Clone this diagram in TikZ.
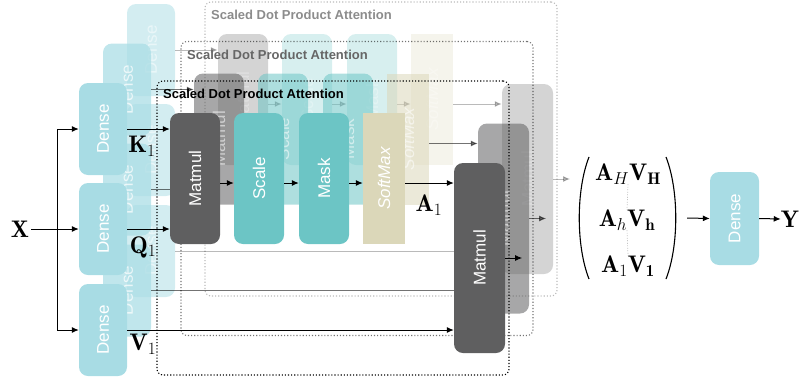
\documentclass[tikz,border=0pt]{standalone}
\usepackage{fontspec}
\newfontfamily\lsans{Liberation Sans}
\usetikzlibrary{arrows.meta}
\definecolor{densec}{HTML}{A8DCE4}
\definecolor{mmc}{HTML}{5F5F60}
\definecolor{tealc}{HTML}{6CC5C5}
\definecolor{softc}{HTML}{DBD7B9}
\tikzset{
  arr/.style={-{Latex[length=7pt,width=6pt]}, line width=1pt},
  rbox/.style={rounded corners=9pt, inner sep=0pt, draw=none},
  densebox/.style={rbox, fill=densec, minimum width=48pt, minimum height=92pt},
  mmbox/.style={rbox, fill=mmc, minimum width=50pt, minimum height=131pt},
  mmbigbox/.style={rbox, fill=mmc, minimum width=51pt, minimum height=190pt},
  scbox/.style={rbox, fill=tealc, minimum width=50pt, minimum height=131pt},
  smbox/.style={inner sep=0pt, fill=softc, minimum width=42pt, minimum height=131pt},
  btext/.style={rotate=90, text=white, inner sep=0pt, font=\lsans\fontsize{17}{19}\selectfont},
  frame/.style={draw, dotted, line width=1.1pt, rounded corners=6pt, inner sep=0pt, minimum width=352pt, minimum height=294pt},
  flabel/.style={anchor=west, inner sep=0pt, font=\lsans\bfseries\fontsize{13}{15}\selectfont},
  mathlbl/.style={inner sep=0pt, font=\fontsize{24}{28}\selectfont},
}
% #1 suffix, #2 dx, #3 dy, #4 opacity, #5 dense opacity, #6 label colour
\newcommand\attnlayer[6]{%
\begin{scope}[shift={(#2,#3)}, opacity=#4]
  \node[densebox, opacity=#5] (dK#1) at (103,129) {};
  \node[btext, opacity=#5] at (dK#1) {Dense};
  \node[densebox, opacity=#5] (dQ#1) at (103,229) {};
  \node[btext, opacity=#5] at (dQ#1) {Dense};
  \node[densebox, opacity=#5] (dV#1) at (103,330) {};
  \node[btext, opacity=#5] at (dV#1) {Dense};
  \node[mmbox] (ma#1) at (195,178.5) {};
  \node[btext] at (ma#1) {Matmul};
  \node[scbox] (sc#1) at (259,178.5) {};
  \node[btext] at (sc#1) {Scale};
  \node[scbox] (mk#1) at (324,178.5) {};
  \node[btext] at (mk#1) {Mask};
  \node[smbox] (sm#1) at (384,178.5) {};
  \node[btext, font=\lsans\itshape\fontsize{17}{19}\selectfont] at (sm#1) {SoftMax};
  \node[mmbigbox] (mb#1) at (479.5,258) {};
  \node[btext] at (mb#1) {Matmul};
  \draw[arr] (dK#1.east) -- (dK#1.east -| ma#1.west);
  \draw[arr] (dQ#1.east) -- (dQ#1.east -| ma#1.west);
  \draw[arr] (dV#1.east) -- (dV#1.east -| mb#1.west);
  \draw[arr] ([yshift=-4.5pt]ma#1.east) -- ([yshift=-4.5pt]sc#1.west);
  \draw[arr] ([yshift=-4.5pt]sc#1.east) -- ([yshift=-4.5pt]mk#1.west);
  \draw[arr] ([yshift=-4.5pt]mk#1.east) -- ([yshift=-4.5pt]sm#1.west);
  \draw[arr] ([yshift=-4.5pt]sm#1.east) -- ([yshift=-4.5pt]sm#1.east -| mb#1.west);
  \coordinate (o#1) at ([xshift=17pt]mb#1.east);
  \draw[arr] (mb#1.east) -- (o#1);
  \node[frame, draw=black] (fr#1) at (333,228) {};
  \node[flabel, text=#6, opacity=1] (fl#1) at (163,94) {Scaled Dot Product Attention};
\end{scope}}
\begin{document}
\begin{tikzpicture}[x=1pt,y=-1pt]
\useasboundingbox (0,0) rectangle (802,383);
\attnlayer{c}{48}{-79}{0.27}{0.5}{black!45}
\attnlayer{b}{24}{-39.5}{0.55}{0.72}{black!60}
\attnlayer{a}{0}{0}{1}{1}{black}
% inputs
\node[mathlbl] (X) at (20,229) {$\mathbf{X}$};
\coordinate (sp) at (57,229);
\draw[arr] ([xshift=2pt]X.east) -- (dQa.west);
\draw[arr] (sp) |- (dKa.west);
\draw[arr] (sp) |- (dVa.west);
\node[mathlbl] (lK) at (142,146) {$\mathbf{K}_1$};
\node[mathlbl] (lQ) at (143,247) {$\mathbf{Q}_1$};
\node[mathlbl] (lV) at (143,344) {$\mathbf{V}_1$};
\node[mathlbl] (lA) at (429,205) {$\mathbf{A}_1$};
% concatenation
\node[mathlbl] (e1) at (628,174) {$\mathbf{A}_H\mathbf{V}_\mathbf{H}$};
\node[mathlbl] (e2) at (627,220) {$\mathbf{A}_h\mathbf{V}_\mathbf{h}$};
\node[mathlbl] (e3) at (628,266) {$\mathbf{A}_1\mathbf{V}_\mathbf{1}$};
\draw[black!35, line width=0.7pt, dash pattern=on 0.7pt off 1.8pt] (e1.south) -- (e2.north);
\draw[black!35, line width=0.7pt, dash pattern=on 0.7pt off 1.8pt] (e2.south) -- (e3.north);
\node[inner sep=0pt, minimum width=110pt, minimum height=122pt] (mat) at (632,218) {};
\draw[line width=1.1pt] (589,157) .. controls (576,190) and (576,246) .. (589,279);
\draw[line width=1.1pt] (666,157) .. controls (679,190) and (679,246) .. (666,279);
\node[densebox, minimum width=49pt, minimum height=93pt] (fd) at (734.5,218.5) {};
\node[btext] at (fd) {Dense};
\node[mathlbl] (Y) at (790,219) {$\mathbf{Y}$};
\draw[arr] (mat.east) -- (fd.west);
\draw[arr] (fd.east) -- (Y.west);
\end{tikzpicture}
\end{document}
